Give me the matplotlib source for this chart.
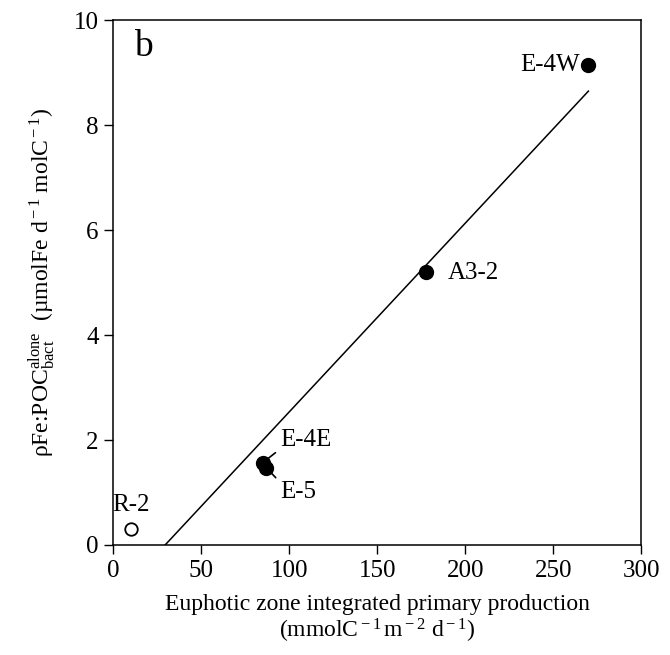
import matplotlib
matplotlib.use("Agg")
import matplotlib.pyplot as plt

plt.rcParams["font.family"] = ["Liberation Serif", "DejaVu Serif"]
plt.rcParams["mathtext.fontset"] = "custom"
plt.rcParams["mathtext.rm"] = "Liberation Serif"
plt.rcParams["mathtext.it"] = "Liberation Serif:italic"

# station data (filled = iron-fertilised sites, open = reference)
stations = ["E-4W", "A3-2", "E-4E", "E-5"]
pp = [270, 178, 85, 87]
fe_uptake = [9.14, 5.2, 1.57, 1.47]

ref_station = "R-2"
ref_pp = [10]
ref_fe = [0.3]

# regression line end points
fit_x = [29.5, 270]
fit_y = [0.0, 8.65]

fig = plt.figure(figsize=(6.7, 6.55), dpi=100)
ax = fig.add_axes([0.169, 0.168, 0.788, 0.801])

ax.plot(fit_x, fit_y, color="black", lw=1.1)
ax.plot(pp, fe_uptake, "o", color="black", ms=10)
ax.plot(ref_pp, ref_fe, "o", mfc="white", mec="black", mew=1.3, ms=9)

fs = 18
ax.text(pp[0] - 5, fe_uptake[0], stations[0], ha="right", va="center", fontsize=fs)
ax.text(pp[1] + 12, fe_uptake[1] - 0.02, stations[1], ha="left", va="center", fontsize=fs)
ax.annotate(stations[2], xy=(pp[2], fe_uptake[2]), xytext=(95, 2.0),
            ha="left", va="center", fontsize=fs,
            arrowprops=dict(arrowstyle="-", color="black", lw=1.2, shrinkA=2, shrinkB=0,
                            relpos=(0, 0.1)))
ax.annotate(stations[3], xy=(pp[3], fe_uptake[3]), xytext=(95, 1.0),
            ha="left", va="center", fontsize=fs,
            arrowprops=dict(arrowstyle="-", color="black", lw=1.2, shrinkA=2, shrinkB=0,
                            relpos=(0, 0.95)))
ax.text(ref_pp[0], ref_fe[0] + 0.46, ref_station, ha="center", va="center", fontsize=fs)

ax.text(17, 9.5, "b", ha="center", va="center", fontsize=27)

ax.set_xlim(0, 300)
ax.set_ylim(0, 10)
ax.set_xticks([0, 50, 100, 150, 200, 250, 300])
ax.set_yticks([0, 2, 4, 6, 8, 10])
ax.tick_params(direction="out", length=6.5, width=1, labelsize=fs, pad=4,
               top=False, right=False)
for s in ax.spines.values():
    s.set_linewidth(1.1)

ax.set_xlabel("Euphotic zone integrated primary production\n"
              r"(mmolC$^{\rm -1}\,$m$^{\rm -2}$ d$^{\rm -1}$)",
              fontsize=17, labelpad=9, linespacing=1.1)
ax.set_ylabel(r"ρFe:POC$^{\rm alone}_{\rm bact}$  (µmolFe d$^{\rm -1}$ molC$^{\rm -1}$)",
              fontsize=17, labelpad=12)

fig.savefig("out.png", dpi=100)
